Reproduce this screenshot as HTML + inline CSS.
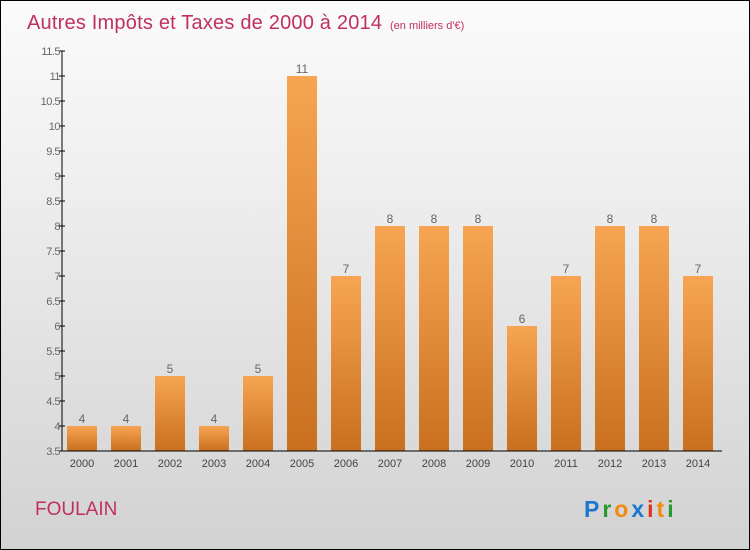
<!DOCTYPE html>
<html><head><meta charset="utf-8"><style>
body{margin:0}
#c{width:748px;height:548px;border:1px solid #000;background:linear-gradient(#fbfbfb,#f0f0f0 30%,#d2d2d2);position:relative;font-family:"Liberation Sans",sans-serif;overflow:hidden}
</style></head><body>
<div id="c">
<svg id="s" width="748" height="548">
<defs><linearGradient id="g" x1="0" y1="0" x2="0" y2="1"><stop offset="0" stop-color="#f7a552"/><stop offset="1" stop-color="#c8701f"/></linearGradient></defs>
<text x="26" y="28" font-size="20" fill="#c0305e" textLength="355">Autres Impôts et Taxes de 2000 à 2014</text>
<text x="389" y="28" font-size="11" fill="#c0305e">(en milliers d'€)</text>
<text x="34" y="514" font-size="19" fill="#c0305e">FOULAIN</text>
<g font-size="23" font-weight="bold" font-family="'Liberation Sans',sans-serif" letter-spacing="3">
<text x="583" y="516" fill="#1a78d0">P<tspan fill="#2a9a30">r</tspan><tspan fill="#f08a10">o</tspan><tspan fill="#1a78d0">x</tspan><tspan fill="#e03020">i</tspan><tspan fill="#f08a10">t</tspan><tspan fill="#2a9a30">i</tspan></text>
</g>
<g id="plot"></g>
</svg>
</div>
<script>
const years=["2000","2001","2002","2003","2004","2005","2006","2007","2008","2009","2010","2011","2012","2013","2014"];
const values=[4,4,5,4,5,11,7,8,8,8,6,7,8,8,7];
const yTicks=[3.5,4,4.5,5,5.5,6,6.5,7,7.5,8,8.5,9,9.5,10,10.5,11,11.5];
const y=v=>450-(v-3.5)*50;
const x=i=>81+i*44;
const ns="http://www.w3.org/2000/svg";
const p=document.getElementById('plot');
function mk(t,a){const e=document.createElementNS(ns,t);for(const k in a)e.setAttribute(k,a[k]);p.appendChild(e);return e;}
values.forEach((v,i)=>{
 const b=mk('rect',{x:x(i)-15,y:y(v),width:30,height:450-y(v),fill:'url(#g)'});
 
 
 const t=mk('text',{x:x(i),y:y(v)-3,'font-size':12,fill:'#666','text-anchor':'middle'});
 t.textContent=v;
 
 
 const l=mk('text',{x:x(i),y:466,'font-size':11,fill:'#444','text-anchor':'middle'});
 l.textContent=years[i];
 
 
});
yTicks.forEach(v=>{
 mk('line',{x1:58,x2:64,y1:y(v),y2:y(v),stroke:'#000'});
 const t=mk('text',{x:59,y:y(v)+4,'font-size':11,fill:'#666','text-anchor':'end','letter-spacing':'-0.5'});
 t.textContent=v;
 
 
});
const ya=mk('line',{x1:61,x2:61,y1:50,y2:450,stroke:'#000'});


const xa=mk('line',{x1:61,x2:721,y1:450,y2:450,stroke:'#000'});


</script>
</body></html>
